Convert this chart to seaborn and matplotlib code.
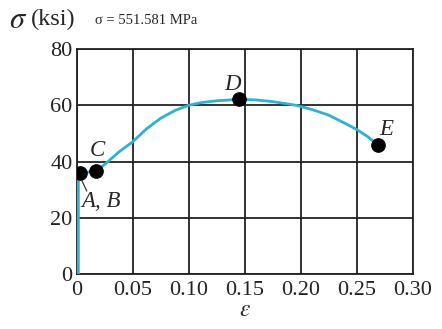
import matplotlib
matplotlib.use("Agg")
import matplotlib.pyplot as plt
import seaborn as sns
import pandas as pd

# Stress-strain curve (strain, stress in ksi)
strain = [0.0015, 0.0015, 0.004, 0.010, 0.017, 0.022, 0.028, 0.038, 0.050, 0.062,
          0.075, 0.088, 0.100, 0.112, 0.125, 0.145, 0.160, 0.175, 0.196, 0.210,
          0.225, 0.240, 0.250, 0.260, 0.269]
stress = [0.0, 36.0, 36.0, 36.2, 36.8, 38.0, 40.0, 43.5, 47.0, 51.5,
          55.4, 58.2, 60.0, 61.0, 61.6, 62.1, 61.9, 61.3, 60.0, 58.5,
          56.5, 53.5, 51.4, 48.8, 45.9]

# Labelled points
point_names = ["A, B", "C", "D", "E"]
point_strain = [0.003, 0.017, 0.145, 0.269]
point_stress = [35.8, 36.8, 62.1, 45.9]

x_ticks = [0, 0.05, 0.10, 0.15, 0.20, 0.25, 0.30]
x_tick_labels = ["0", "0.05", "0.10", "0.15", "0.20", "0.25", "0.30"]
y_ticks = [0, 20, 40, 60, 80]

curve = pd.DataFrame({"strain": strain, "stress": stress})
points = pd.DataFrame({"strain": point_strain, "stress": point_stress, "name": point_names})

sns.set_style("white")
plt.rcParams["font.family"] = ["Liberation Serif", "DejaVu Serif"]
plt.rcParams["mathtext.fontset"] = "stix"

fig = plt.figure(figsize=(4.42, 3.29), dpi=100)
ax = fig.add_axes([0.1735, 0.167, 0.9337 - 0.1735, 0.851 - 0.167])

ax.set_xlim(0, 0.30)
ax.set_ylim(0, 80)
ax.set_xticks(x_ticks)
ax.set_xticklabels(x_tick_labels)
ax.set_yticks(y_ticks)
ax.grid(True, color="#222222", linewidth=1.3)
ax.set_axisbelow(True)
for s in ax.spines.values():
    s.set_color("#222222")
    s.set_linewidth(1.3)
ax.tick_params(axis="both", length=0, labelsize=16, colors="#222222")
ax.tick_params(axis="x", pad=5)
ax.tick_params(axis="y", pad=3)

sns.lineplot(data=curve, x="strain", y="stress", ax=ax, sort=False, estimator=None,
             color="#2bb2d4", linewidth=2.0, zorder=3)
sns.scatterplot(data=points, x="strain", y="stress", ax=ax, color="black", s=95,
                edgecolor="black", zorder=4, legend=False)

ax.set_xlabel(r"$\varepsilon$", fontsize=17, labelpad=0)
ax.set_ylabel("")

# Point labels
ax.plot([point_strain[0] + 0.001, point_strain[0] + 0.006], [point_stress[0] - 2, 29.5],
        color="#333333", linewidth=0.9, zorder=3)
ax.text(0.0045, 25.7, "A, B", fontsize=16.5, style="italic", ha="left", va="center")
ax.text(0.018, 44.0, "C", fontsize=16.5, style="italic", ha="center", va="center")
ax.text(0.1395, 67.5, "D", fontsize=16.5, style="italic", ha="center", va="center")
ax.text(0.276, 51.5, "E", fontsize=16.5, style="italic", ha="center", va="center")

# Axis title and unit note
fig.text(9 / 442, 1 - 21 / 329, r"$\sigma$", fontsize=22, ha="left", va="center")
fig.text(31 / 442, 1 - 19 / 329, "(ksi)", fontsize=17.5, ha="left", va="center")
fig.text(95 / 442, 1 - 21 / 329, "σ = 551.581 MPa", fontsize=10.5, ha="left", va="center")

fig.savefig("out.png", dpi=100)
